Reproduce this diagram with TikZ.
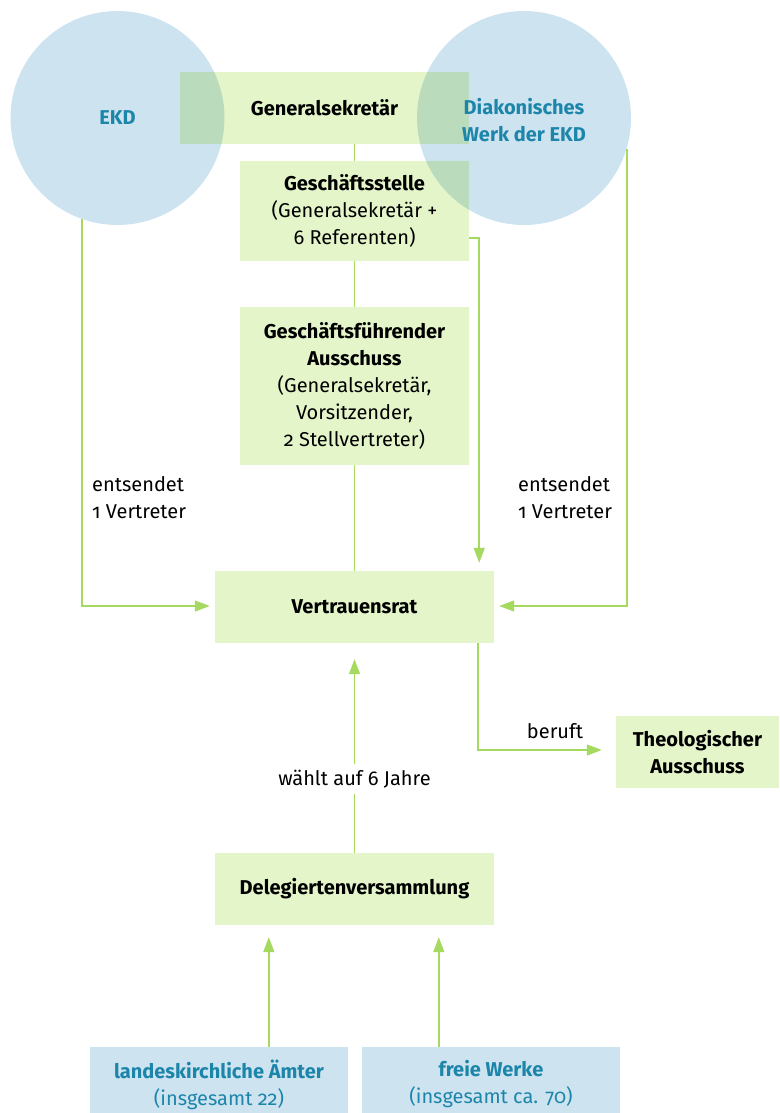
\documentclass[tikz,border=0pt]{standalone}
\usepackage{fontspec}
\setmainfont{Fira Sans}[Numbers=OldStyle]
\usetikzlibrary{arrows.meta,calc}
\definecolor{boxgreen}{HTML}{E4F5CA}
\definecolor{circblue}{HTML}{CEE3F0}
\definecolor{overlapc}{HTML}{BADCBD}
\definecolor{ekdblue}{HTML}{1C85AA}
\definecolor{linegreen}{HTML}{A6D95F}
\tikzset{
  gbox/.style={rectangle, fill=boxgreen, draw=none, inner sep=0pt, align=center},
  bbox/.style={rectangle, fill=circblue, draw=none, inner sep=0pt, align=center, text=ekdblue},
  circ/.style={circle, fill=circblue, draw=none, inner sep=0pt, minimum size=214pt},
  conn/.style={draw=linegreen, line width=1.5pt},
  arr/.style={conn, -{Triangle[width=11pt,length=15pt]}},
  lbl/.style={inner sep=0pt, align=left},
}
\begin{document}
\begin{tikzpicture}[x=1pt,y=-1pt,font=\fontsize{20}{27}\selectfont]
\useasboundingbox (0,0) rectangle (779,1113);
% circles
\node[circ] (ekd) at (117.5,118) {};
\node[circ] (dw) at (524,118) {};
% boxes
\node[gbox, minimum width=289pt, minimum height=72pt] (gen) at (324.5,108) {\textbf{Generalsekretär}};
\node[gbox, minimum width=229pt, minimum height=100pt] (gs) at (354.5,211) {\textbf{Geschäftsstelle}\\(Generalsekretär +\\6 Referenten)};
\node[gbox, minimum width=229pt, minimum height=158pt] (gfa) at (354.5,386) {\textbf{Geschäftsführender}\\\textbf{Ausschuss}\\(Generalsekretär,\\Vorsitzender,\\2 Stellvertreter)};
\node[gbox, minimum width=279pt, minimum height=72pt] (vr) at (354.5,607) {\textbf{Vertrauensrat}};
\node[gbox, minimum width=163pt, minimum height=72pt] (ta) at (697.5,752) {\textbf{Theologischer}\\\textbf{Ausschuss}};
\node[gbox, minimum width=279pt, minimum height=72pt] (dv) at (354.5,889) {\textbf{Delegiertenversammlung}};
\node[bbox, minimum width=258pt, minimum height=75pt] (lk) at (219,1084.5) {\textbf{landeskirchliche Ämter}\\(insgesamt 22)};
\node[bbox, minimum width=258pt, minimum height=75pt] (fw) at (491,1084.5) {\textbf{freie Werke}\\(insgesamt ca. 70)};
% overlaps
\begin{scope}
  \clip (ekd.center) circle (107);
  \fill[overlapc] (gen.north west) rectangle (gen.south east);
\end{scope}
\begin{scope}
  \clip (dw.center) circle (107);
  \fill[overlapc] (gen.north west) rectangle (gen.south east);
  \fill[overlapc] (gs.north west) rectangle (gs.south east);
\end{scope}
% circle texts
\node[text=ekdblue, font=\fontsize{20}{27}\selectfont\bfseries] (ekdt) at (ekd.center) {EKD};
\node[text=ekdblue, font=\fontsize{20}{27}\selectfont\bfseries, align=center] (dwt) at ($(dw.center)+(0,2)$) {Diakonisches\\Werk der EKD};
% connectors
\draw[conn] (gs.north) -- (gs.north |- gen.south);
\draw[conn] (gs.south) -- (gs.south |- gfa.north);
\draw[conn] (gfa.south) -- (gfa.south |- vr.north);
\draw[arr] ($(ekd.center)+(-35.5,100.5)$) |- ($(vr.west)+(-5,-1)$);
\draw[arr] ($(dw.center)+(103,31)$) |- ($(vr.east)+(5,-1)$);
\draw[arr] ($(gs.south east)+(0,-23)$) -| ($(vr.north east)+(-15,-8)$);
\draw[arr] ($(vr.south east)+(-16,0)$) |- ($(ta.west)+(-14,-2)$);
\draw[arr] (dv.north) -- ($(vr.south)+(0,16)$);
\draw[arr] ($(lk.north west)+(179,0)$) -- ($(dv.south west)+(54,12)$);
\draw[arr] ($(fw.north west)+(77,0)$) -- ($(dv.south west)+(224,12)$);
% labels
\node[fill=white, inner xsep=4pt, inner ysep=6pt] (wl) at (354.5,779) {wählt auf 6 Jahre};
\node[lbl, anchor=west] (el) at (92,498) {entsendet\\1 Vertreter};
\node[lbl, anchor=west] (dl) at (518,498) {entsendet\\1 Vertreter};
\node[lbl] (bl) at (555,731) {beruft};
\end{tikzpicture}
\end{document}
